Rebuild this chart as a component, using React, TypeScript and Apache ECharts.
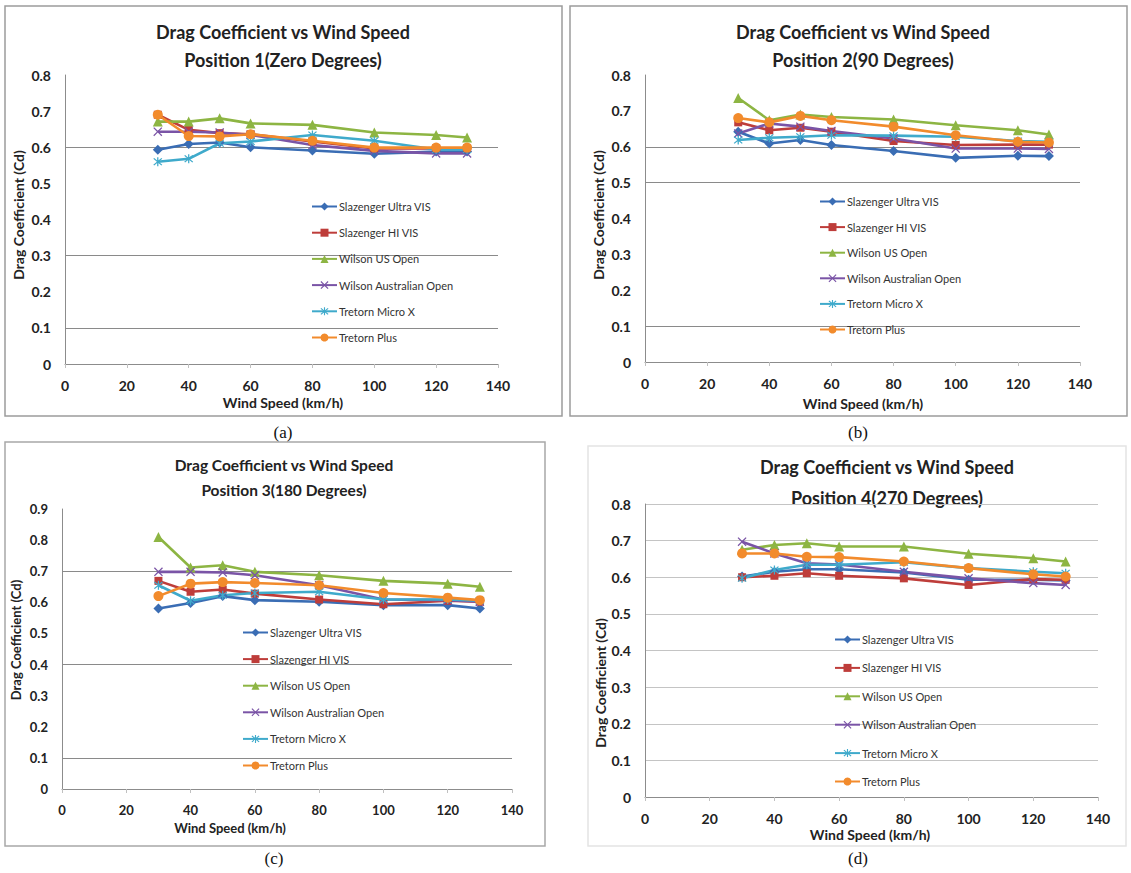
import React, { useEffect, useRef } from "react";
import * as echarts from "echarts";

const windSpeeds = [30, 40, 50, 60, 80, 100, 120, 130];
const xTicks = [0, 20, 40, 60, 80, 100, 120, 140];

const seriesNames = [
  "Slazenger Ultra VIS",
  "Slazenger HI VIS",
  "Wilson US Open",
  "Wilson Australian Open",
  "Tretorn Micro X",
  "Tretorn Plus",
];

// Position 1 (Zero Degrees)
const p1UltraVIS = [0.593, 0.609, 0.613, 0.6, 0.591, 0.582, 0.588, 0.588];
const p1HiVIS = [0.69, 0.648, 0.639, 0.636, 0.616, 0.597, 0.597, 0.597];
const p1USOpen = [0.671, 0.671, 0.68, 0.666, 0.662, 0.641, 0.634, 0.627];
const p1AusOpen = [0.643, 0.643, 0.641, 0.634, 0.606, 0.59, 0.583, 0.583];
const p1MicroX = [0.56, 0.568, 0.611, 0.616, 0.634, 0.618, 0.594, 0.594];
const p1Plus = [0.69, 0.631, 0.63, 0.636, 0.618, 0.599, 0.599, 0.599];

// Position 2 (90 Degrees)
const p2UltraVIS = [0.642, 0.609, 0.619, 0.605, 0.588, 0.569, 0.575, 0.574];
const p2HiVIS = [0.668, 0.646, 0.653, 0.642, 0.616, 0.605, 0.606, 0.606];
const p2USOpen = [0.736, 0.674, 0.69, 0.683, 0.676, 0.66, 0.646, 0.634];
const p2AusOpen = [0.637, 0.665, 0.656, 0.644, 0.623, 0.595, 0.595, 0.594];
const p2MicroX = [0.619, 0.625, 0.628, 0.632, 0.631, 0.628, 0.616, 0.614];
const p2Plus = [0.68, 0.668, 0.686, 0.674, 0.656, 0.632, 0.614, 0.612];

// Position 3 (180 Degrees)
const p3UltraVIS = [0.58, 0.598, 0.62, 0.607, 0.602, 0.591, 0.591, 0.58];
const p3HiVIS = [0.669, 0.634, 0.641, 0.628, 0.609, 0.594, 0.605, 0.602];
const p3USOpen = [0.81, 0.712, 0.719, 0.698, 0.687, 0.669, 0.66, 0.65];
const p3AusOpen = [0.698, 0.698, 0.696, 0.687, 0.655, 0.609, 0.607, 0.602];
const p3MicroX = [0.655, 0.605, 0.623, 0.63, 0.634, 0.609, 0.609, 0.605];
const p3Plus = [0.62, 0.66, 0.665, 0.662, 0.655, 0.63, 0.615, 0.607];

// Position 4 (270 Degrees)
const p4UltraVIS = [0.602, 0.615, 0.622, 0.622, 0.613, 0.593, 0.593, 0.591];
const p4HiVIS = [0.6, 0.604, 0.611, 0.604, 0.597, 0.579, 0.595, 0.593];
const p4USOpen = [0.675, 0.688, 0.693, 0.684, 0.684, 0.664, 0.652, 0.643];
const p4AusOpen = [0.697, 0.665, 0.638, 0.635, 0.615, 0.597, 0.584, 0.579];
const p4MicroX = [0.597, 0.62, 0.634, 0.634, 0.641, 0.625, 0.615, 0.611];
const p4Plus = [0.665, 0.665, 0.656, 0.655, 0.643, 0.625, 0.608, 0.602];

const titles1 = ["Drag Coefficient vs Wind Speed", "Position 1(Zero Degrees)"];
const titles2 = ["Drag Coefficient vs Wind Speed", "Position 2(90 Degrees)"];
const titles3 = ["Drag Coefficient vs Wind Speed", "Position 3(180 Degrees)"];
const titles4 = ["Drag Coefficient vs Wind Speed", "Position 4(270 Degrees)"];
const xAxisTitle = "Wind Speed (km/h)";
const yAxisTitle = "Drag Coefficient (Cd)";
const captions = ["(a)", "(b)", "(c)", "(d)"];

const gridLinesA = [0.1, 0.3, 0.6];
const gridLinesB = [0.1, 0.5, 0.6];
const gridLinesC = [0.1, 0.4, 0.7];

const colors = ["#3a6db4", "#be3d3a", "#8db543", "#7a54a6", "#3faacb", "#f28b2c"];
const crossPath = "path://M1,0L5,4L9,0L10,1L6,5L10,9L9,10L5,6L1,10L0,9L4,5L0,1Z";
const asteriskPath =
  "path://M1,0L5,4L9,0L10,1L6,5L10,9L9,10L5,6L1,10L0,9L4,5L0,1Z M4.3,-1L5.7,-1L5.7,11L4.3,11Z";
const symbols = ["diamond", "rect", "triangle", crossPath, asteriskPath, "circle"];
const symbolSizes = [10, 8, 10, 9, 9, 10];

const FONT = "Lato, 'Open Sans', sans-serif";
const NARROW = "'Liberation Sans Narrow', Lato, sans-serif";

const panels = [
  {
    data: [p1UltraVIS, p1HiVIS, p1USOpen, p1AusOpen, p1MicroX, p1Plus],
    grid: { left: 65, top: 75, width: 433, height: 289 },
    yMax: 0.8,
    gridLines: gridLinesA,
    titles: titles1,
    titleX: 283, titleY: [32, 60], titleSize: 18,
    xTitle: [283, 402], yTitle: [18, 215],
    legend: { left: 306, top: 196, gap: 15.2 },
    caption: [283, 432],
    frame: [5, 6, 557, 410],
    frameColor: "#9c9c9c",
    labelSize: 14, font: FONT, axisTitleSize: 14,
  },
  {
    data: [p2UltraVIS, p2HiVIS, p2USOpen, p2AusOpen, p2MicroX, p2Plus],
    grid: { left: 645, top: 75, width: 435, height: 287 },
    yMax: 0.8,
    gridLines: gridLinesB,
    titles: titles2,
    titleX: 863, titleY: [32, 60], titleSize: 18,
    xTitle: [863, 403], yTitle: [598, 215],
    legend: { left: 814, top: 191, gap: 14.6 },
    caption: [858, 432],
    frame: [570, 6, 557, 410],
    frameColor: "#9c9c9c",
    labelSize: 14, font: FONT, axisTitleSize: 14,
  },
  {
    data: [p3UltraVIS, p3HiVIS, p3USOpen, p3AusOpen, p3MicroX, p3Plus],
    grid: { left: 62, top: 509, width: 450, height: 280 },
    yMax: 0.9,
    gridLines: gridLinesC,
    titles: titles3,
    titleX: 284, titleY: [465, 490], titleSize: 15.5,
    xTitle: [230, 828], yTitle: [16, 640],
    legend: { left: 237, top: 622, gap: 15.6 },
    caption: [274, 858],
    frame: [5, 442, 540, 404],
    frameColor: "#a8a8a8",
    labelSize: 13, font: FONT, axisTitleSize: 13,
  },
  {
    data: [p4UltraVIS, p4HiVIS, p4USOpen, p4AusOpen, p4MicroX, p4Plus],
    grid: { left: 645, top: 504, width: 453, height: 293 },
    yMax: 0.8,
    gridLines: null,
    titles: titles4,
    titleX: 887, titleY: [467, 498], titleSize: 18,
    xTitle: [870, 834], yTitle: [600, 683],
    legend: { left: 829, top: 629, gap: 17.4 },
    caption: [858, 858],
    frame: [588, 446, 538, 400],
    frameColor: "#e4e4e4",
    labelSize: 14, font: NARROW, axisTitleSize: 14,
  },
];

function buildOption() {
  const grid = panels.map((p) => ({ ...p.grid, outerBoundsMode: "none" }));
  const xAxis = panels.map((p, i) => ({
    type: "value",
    gridIndex: i,
    min: 0,
    max: 140,
    interval: 20,
    axisLine: { show: true, lineStyle: { color: "#8c8c8c", width: 1 } },
    axisTick: { show: true, length: 4, lineStyle: { color: "#c0c0c0" } },
    splitLine: { show: false },
    axisLabel: {
      margin: 14,
      color: "#222",
      fontSize: p.labelSize,
      fontWeight: "bold",
      fontFamily: p.font,
      formatter: (v: number) => (xTicks.includes(v) ? String(v) : ""),
    },
  }));
  const yAxis = panels.map((p, i) => ({
    type: "value",
    gridIndex: i,
    min: 0,
    max: p.yMax,
    interval: 0.1,
    axisLine: { show: true, lineStyle: { color: "#8c8c8c", width: 1 } },
    axisTick: { show: false },
    splitLine: {
      show: p.gridLines === null,
      lineStyle: { color: "#c4c4c4", width: 1 },
    },
    axisLabel: {
      margin: 14,
      color: "#222",
      fontSize: p.labelSize,
      fontWeight: "bold",
      fontFamily: p.font,
    },
  }));
  const legend = panels.map((p) => ({
    show: true,
    orient: "vertical",
    left: p.legend.left,
    top: p.legend.top,
    itemGap: p.legend.gap,
    itemWidth: 25,
    itemHeight: 10,
    selectedMode: false,
    data: seriesNames,
    textStyle: { fontSize: 11, color: "#333", fontFamily: p.font, padding: [0, 0, 0, -3] },
  }));
  const series: any[] = [];
  panels.forEach((p, i) => {
    p.data.forEach((vals, k) => {
      const s: any = {
        name: seriesNames[k],
        type: "line",
        xAxisIndex: i,
        yAxisIndex: i,
        data: windSpeeds.map((x, j) => [x, vals[j]]),
        symbol: symbols[k],
        symbolSize: symbolSizes[k],
        showSymbol: true,
        lineStyle: { width: 2.6, color: colors[k] },
        itemStyle: { color: colors[k] },
        z: 3,
      };
      if (k === 0 && p.gridLines) {
        s.markLine = {
          silent: true,
          symbol: "none",
          z: 1,
          label: { show: false },
          lineStyle: { color: "#8a8a8a", width: 1, type: "solid" },
          data: p.gridLines.map((v) => ({ yAxis: v })),
        };
      }
      series.push(s);
    });
  });

  const graphic: any[] = [];
  panels.forEach((p) => {
    graphic.push({
      type: "rect",
      shape: { x: p.frame[0], y: p.frame[1], width: p.frame[2], height: p.frame[3] },
      style: { fill: "none", stroke: p.frameColor, lineWidth: 1.5 },
      z: 0,
      silent: true,
    });
    p.titles.forEach((t, j) => {
      graphic.push({
        type: "text",
        x: p.titleX,
        y: p.titleY[j],
        silent: true,
        style: {
          text: t,
          align: "center",
          verticalAlign: "middle",
          textAlign: "center",
          textVerticalAlign: "middle",
          fontSize: p.titleSize,
          fontWeight: "bold",
          fontFamily: p.font,
          fill: "#222",
        },
      });
    });
    graphic.push({
      type: "text",
      x: p.xTitle[0],
      y: p.xTitle[1],
      silent: true,
      style: {
        text: xAxisTitle,
        align: "center",
        verticalAlign: "middle",
        textAlign: "center",
        textVerticalAlign: "middle",
        fontSize: p.axisTitleSize,
        fontWeight: "bold",
        fontFamily: p.font,
        fill: "#222",
      },
    });
    graphic.push({
      type: "text",
      x: p.yTitle[0],
      y: p.yTitle[1],
      rotation: Math.PI / 2,
      silent: true,
      style: {
        text: yAxisTitle,
        align: "center",
        verticalAlign: "middle",
        textAlign: "center",
        textVerticalAlign: "middle",
        fontSize: p.axisTitleSize,
        fontWeight: "bold",
        fontFamily: p.font,
        fill: "#222",
      },
    });
  });
  panels.forEach((p, i) => {
    graphic.push({
      type: "text",
      x: p.caption[0],
      y: p.caption[1],
      silent: true,
      style: {
        text: captions[i],
        align: "center",
        verticalAlign: "middle",
        textAlign: "center",
        textVerticalAlign: "middle",
        fontSize: 17,
        fontFamily: "'Liberation Serif', 'DejaVu Serif', serif",
        fill: "#111",
      },
    });
  });

  return {
    animation: false,
    backgroundColor: "#ffffff",
    grid,
    xAxis,
    yAxis,
    legend,
    series,
    graphic,
  };
}

export default function App() {
  const ref = useRef<HTMLDivElement>(null);
  useEffect(() => {
    if (!ref.current) return;
    const chart = echarts.init(ref.current, undefined, { renderer: "svg" });
    chart.setOption(buildOption() as any);
    return () => chart.dispose();
  }, []);
  return (
    <div
      ref={ref}
      style={{ position: "absolute", left: 0, top: 0, width: 1131, height: 873 }}
    />
  );
}
